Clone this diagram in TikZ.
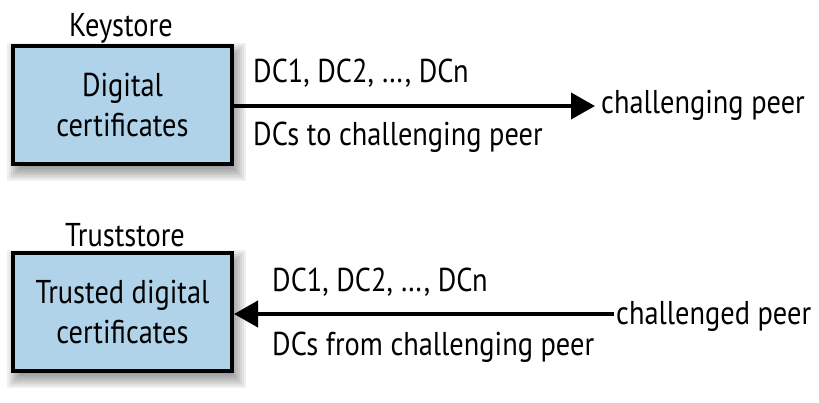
\documentclass[tikz,border=0pt]{standalone}
\usepackage{fontspec}
\setmainfont{PT Sans}[FakeStretch=0.86]
\usetikzlibrary{arrows.meta}
\definecolor{boxblue}{RGB}{176,211,233}
\pgfdeclarelayer{bg}
\pgfsetlayers{bg,main}
\tikzset{
  store/.style={draw=black, line width=4pt, fill=boxblue, minimum width=219pt, minimum height=118pt, align=center, inner sep=0pt},
  txt/.style={font=\fontsize{33}{40}\selectfont, inner sep=0pt},
  conn/.style={line width=4pt, -{Triangle[length=24pt,width=26pt]}},
  shadowlayer/.style={fill=black, fill opacity=0.06, draw=none}
}
\newcommand{\boxshadow}[1]{%
  \begin{pgfonlayer}{bg}
  \foreach \k in {0,...,8}{
    \pgfmathsetmacro{\d}{-8+2*\k}
    \fill[shadowlayer] ([shift={(4+\d,7+\d)}]#1.north west) rectangle ([shift={(4-\d,7-\d)}]#1.south east);
  }
  \end{pgfonlayer}}
\begin{document}
\begin{tikzpicture}[x=1pt,y=-1pt]
\useasboundingbox (0,0) rectangle (819,402);
\node[store, txt] (ks) at (122.5,105) {Digital\\certificates};
\node[store, txt] (ts) at (122.5,312) {Trusted digital\\certificates};
\boxshadow{ks}
\boxshadow{ts}
\node[txt] (kl) at (121,28) {Keystore};
\node[txt] (tl) at (125,235) {Truststore};
\node[txt, anchor=west] (cp) at (601,105) {challenging peer};
\node[txt, anchor=west] (dp) at (616,316) {challenged peer};
\coordinate (a1) at (595,106);
\coordinate (a2) at (614,314);
\draw[conn] (ks.east |- a1) -- (a1);
\draw[conn] (a2) -- (ts.east |- a2);
\node[txt, anchor=west] (l1) at (253,73) {DC1, DC2, …, DCn};
\node[txt, anchor=west] (l2) at (253,137) {DCs to challenging peer};
\node[txt, anchor=west] (l3) at (272,282) {DC1, DC2, …, DCn};
\node[txt, anchor=west] (l4) at (272,347) {DCs from challenging peer};
\end{tikzpicture}
\end{document}
